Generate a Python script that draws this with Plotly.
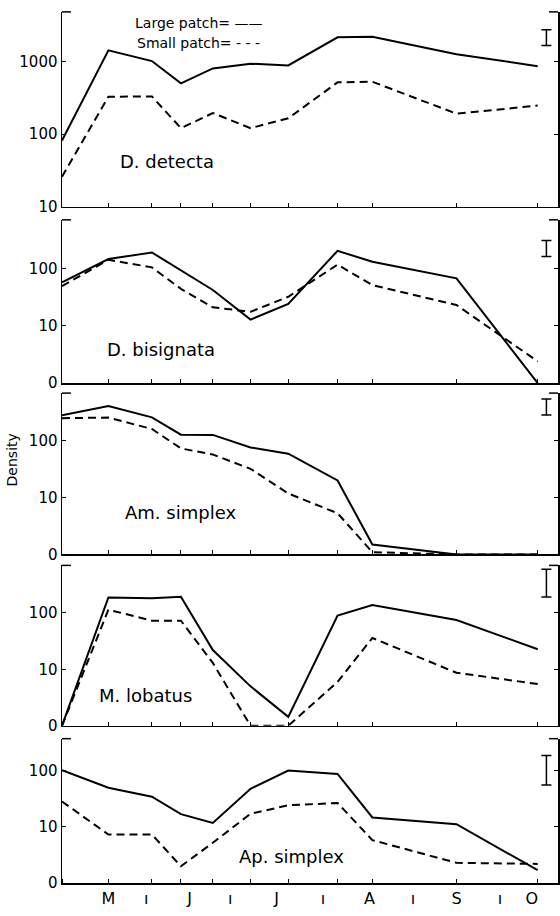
import plotly.graph_objects as go

# ---------------- data ----------------
sample_days = [119, 135, 150, 160, 171, 184, 197, 214, 226, 255, 283]

month_label_days = [135, 148, 163, 177, 193, 209, 225, 240, 255, 270, 281]
month_labels = ["M", "ı", "J", "ı", "J", "ı", "A", "ı", "S", "ı", "O"]

species = ["D. detecta", "D. bisignata", "Am. simplex", "M. lobatus", "Ap. simplex"]

detecta_large = [82, 1420, 1010, 500, 800, 930, 880, 2140, 2180, 1250, 860]
detecta_small = [26, 327, 330, 121, 195, 121, 165, 515, 525, 191, 247]

bisignata_large = [57, 145, 189, 92, 42, 12.8, 24, 202, 130, 67, 0]
bisignata_small = [49, 141, 104, 44, 21, 17.5, 32, 116, 51, 23, 2.4]

amsimplex_large = [280, 405, 256, 127, 126, 76, 59, 20, 1.5, 0, 0]
amsimplex_small = [248, 254, 160, 73, 57, 32, 11.8, 5.3, 1.1, 0, 0]

lobatus_large = [0, 188, 182, 193, 22, 5, 1.44, 90, 138, 75, 22.7]
lobatus_small = [0, 114, 73, 73, 13, 0, 0, 6, 36, 8.7, 5.5]

apsimplex_large = [100, 49, 34, 16.7, 11.7, 47, 99, 86, 14.6, 11.1, 1.7]
apsimplex_small = [28, 7.3, 7.3, 2.0, 5.2, 17, 24, 26.4, 5.8, 2.3, 2.2]

# confidence-interval bars drawn at the top right of each panel
ci_day = 286
ci_center = [2120, 221, 390, 336, 100]
ci_low = [1650, 161, 283, 191, 55]
ci_high = [2720, 304, 537, 592, 183]

ytick_vals = [[10, 100, 1000], [1, 10, 100], [1, 10, 100], [1, 10, 100], [1, 10, 100]]
ytick_text = [["10", "100", "1000"], ["0", "10", "100"], ["0", "10", "100"],
              ["0", "10", "100"], ["0", "10", "100"]]

large_series = [detecta_large, bisignata_large, amsimplex_large, lobatus_large, apsimplex_large]
small_series = [detecta_small, bisignata_small, amsimplex_small, lobatus_small, apsimplex_small]

# ---------------- layout geometry ----------------
W, H = 560, 916
FONT = "DejaVu Sans"


def px(x):
    return x / W


def py(y):
    return 1 - y / H


# pixel top/bottom of each panel, and log10 range
panel_px = [(12, 209), (222, 387), (397, 560), (571, 733), (746, 892)]
panel_logrange = [(1.0, 3.68), (0.0, 2.845), (0.0, 2.835), (0.0, 2.842), (0.0, 2.56)]
label_px = [(118, 163), (105, 353), (123, 518), (97, 702), (237, 865)]
x_dom = [px(62), px(558)]
x_range = [119, 290]

fig = go.Figure()


def clip(vals):
    return [v if v >= 1 else 1 for v in vals]


layout = dict(
    width=W, height=H, autosize=False,
    margin=dict(l=0, r=0, t=0, b=0),
    paper_bgcolor="white", plot_bgcolor="white",
    showlegend=False,
    font=dict(family=FONT, color="black"),
)
shapes = []
annotations = []

for i in range(5):
    n = i + 1
    xa = "x" if n == 1 else f"x{n}"
    ya = "y" if n == 1 else f"y{n}"
    top, bot = panel_px[i]
    dom = [py(bot), py(top)]

    fig.add_trace(go.Scatter(x=sample_days, y=clip(large_series[i]), mode="lines",
                             line=dict(color="black", width=2),
                             xaxis=xa, yaxis=ya, name="Large patch"))
    fig.add_trace(go.Scatter(x=sample_days, y=clip(small_series[i]), mode="lines",
                             line=dict(color="black", width=2, dash="8px,5px"),
                             xaxis=xa, yaxis=ya, name="Small patch"))
    fig.add_trace(go.Scatter(x=[ci_day], y=[ci_center[i]], mode="markers",
                             marker=dict(size=1, color="black"),
                             error_y=dict(type="data", symmetric=False,
                                          array=[ci_high[i] - ci_center[i]],
                                          arrayminus=[ci_center[i] - ci_low[i]],
                                          color="black", thickness=1.5, width=5),
                             xaxis=xa, yaxis=ya, cliponaxis=False))

    xkey = "xaxis" if n == 1 else f"xaxis{n}"
    xdict = dict(domain=x_dom, range=x_range, anchor=ya,
                 showline=True, linecolor="black", linewidth=1.5,
                 showgrid=False, zeroline=False, fixedrange=True)
    if n < 5:
        xdict.update(tickmode="array", tickvals=sample_days, ticks="inside",
                     ticklen=4, tickwidth=1, tickcolor="black", showticklabels=False)
    else:
        xdict.update(tickmode="array", tickvals=month_label_days, ticktext=month_labels,
                     ticks="", tickfont=dict(size=16, family=FONT),
                     minor=dict(tickmode="array", tickvals=sample_days, ticks="inside",
                                ticklen=4, tickwidth=1, tickcolor="black"))
    layout[xkey] = xdict

    ykey = "yaxis" if n == 1 else f"yaxis{n}"
    layout[ykey] = dict(domain=dom, type="log", range=list(panel_logrange[i]), anchor=xa,
                        tickmode="array", tickvals=ytick_vals[i], ticktext=ytick_text[i],
                        ticks="inside", ticklen=4, tickwidth=1, tickcolor="black",
                        tickfont=dict(size=15, family=FONT),
                        showline=True, mirror="ticks", linecolor="black", linewidth=1.5,
                        showgrid=False, zeroline=False, fixedrange=True)

    # small horizontal strokes at the top corners of each panel
    shapes.append(dict(type="line", xref=f"{xa} domain", yref=f"{ya} domain",
                       x0=0, x1=0.018, y0=1, y1=1, line=dict(color="black", width=1.5)))
    shapes.append(dict(type="line", xref=f"{xa} domain", yref=f"{ya} domain",
                       x0=0.982, x1=1, y0=1, y1=1, line=dict(color="black", width=1.5)))

    lx, ly = label_px[i]
    annotations.append(dict(text=species[i], xref="paper", yref="paper",
                            x=px(lx), y=py(ly), xanchor="left", yanchor="middle",
                            showarrow=False, font=dict(size=18, family=FONT)))

annotations.append(dict(text="Large patch= ——", xref="paper", yref="paper",
                        x=px(133), y=py(23), xanchor="left", yanchor="middle",
                        showarrow=False, font=dict(size=14, family=FONT)))
annotations.append(dict(text="Small patch= - - -", xref="paper", yref="paper",
                        x=px(135), y=py(43), xanchor="left", yanchor="middle",
                        showarrow=False, font=dict(size=14, family=FONT)))
annotations.append(dict(text="Density", xref="paper", yref="paper", textangle=-90,
                        x=px(12), y=py(465), xanchor="center", yanchor="middle",
                        showarrow=False, font=dict(size=14, family=FONT)))

layout["shapes"] = shapes
layout["annotations"] = annotations
fig.update_layout(**layout)

# remove the browser's default 8px page margin so the figure fills the window exactly
fig.write_html("out.html",
               config={"displayModeBar": False, "staticPlot": True},
               post_script="document.body.style.margin='0px';"
                           "document.body.style.overflow='hidden';")
